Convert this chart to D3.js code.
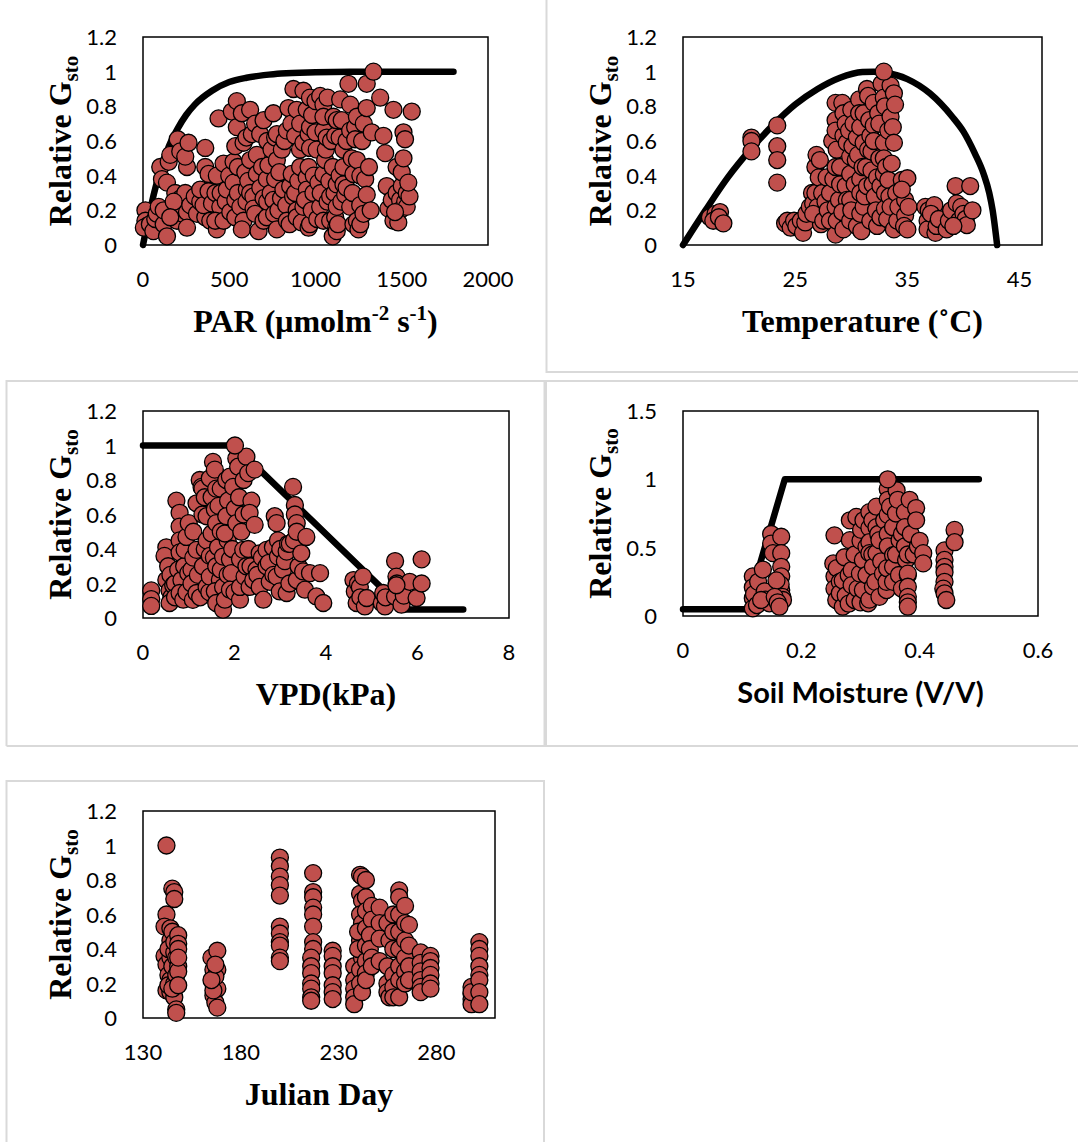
<!DOCTYPE html>
<html>
<head>
<meta charset="utf-8">
<script src="https://cdn.jsdelivr.net/npm/d3@7"></script>
<style>
  html, body { margin: 0; padding: 0; background: #fff; }
  svg { display: block; }
</style>
</head>
<body>
<div id="chart"></div>
<script>
// --- data -----------------------------------------------------------------

var gstoTicks = [0, 0.2, 0.4, 0.6, 0.8, 1, 1.2];
var soilGstoTicks = [0, 0.5, 1, 1.5];
var parTicks = [0, 500, 1000, 1500, 2000];
var tempTicks = [15, 25, 35, 45];
var vpdTicks = [0, 2, 4, 6, 8];
var soilTicks = [0, 0.2, 0.4, 0.6];
var julianTicks = [130, 180, 230, 280];

// model curves (black lines)
var parCurve = [[0, 0], [50, 0.24], [100, 0.43], [150, 0.57], [200, 0.67], [250, 0.75], [300, 0.81],
    [400, 0.89], [500, 0.94], [600, 0.965], [700, 0.98], [800, 0.99], [1000, 0.996], [1200, 0.999],
    [1400, 1], [1800, 1]];
var tempCurve = [[15, 0], [17, 0.2], [19, 0.39], [21, 0.55], [23, 0.69], [25, 0.81], [27, 0.9],
    [29, 0.965], [31, 0.998], [32, 1], [33, 0.995], [35, 0.957], [37, 0.875], [39, 0.74],
    [40, 0.654], [41, 0.53], [41.8, 0.41], [42.3, 0.3], [42.6, 0.2], [43, 0]];
var vpdCurve = [[0, 1], [2, 1], [5.7, 0.05], [7, 0.05]];
var soilCurve = [[0, 0.05], [0.115, 0.05], [0.13, 0.38], [0.172, 1], [0.5, 1]];

// observed relative Gsto
var parPoints = [
    [14, 0.20], [14, 0.14], [23, 0.11], [5, 0.10], [40, 0.12], [60, 0.08], [71, 0.15], [80, 0.18],
    [91, 0.22], [120, 0.12], [120, 0.20], [139, 0.05], [100, 0.45], [110, 0.38], [139, 0.36],
    [149, 0.48], [158, 0.52], [201, 0.61], [216, 0.54], [255, 0.45], [245, 0.51], [264, 0.59],
    [187, 0.30], [197, 0.14], [200, 0.20], [220, 0.27], [230, 0.18], [245, 0.30], [255, 0.19],
    [255, 0.10], [178, 0.25], [158, 0.16], [274, 0.23], [300, 0.28], [313, 0.18],
    [332, 0.25], [332, 0.32], [361, 0.56], [361, 0.45], [361, 0.16], [351, 0.23], [380, 0.41],
    [380, 0.31], [390, 0.14], [400, 0.24], [420, 0.30], [428, 0.40], [438, 0.73], [448, 0.22],
    [428, 0.09], [419, 0.14], [450, 0.30], [467, 0.47], [467, 0.14], [480, 0.25], [486, 0.32],
    [500, 0.40], [506, 0.19], [515, 0.77], [525, 0.48], [525, 0.36], [535, 0.26], [544, 0.83],
    [535, 0.16], [544, 0.68], [535, 0.57], [550, 0.30], [550, 0.45], [564, 0.22], [573, 0.76],
    [583, 0.59], [593, 0.42], [602, 0.32], [583, 0.14], [573, 0.09], [600, 0.25], [600, 0.62],
    [610, 0.37], [621, 0.78], [621, 0.30], [621, 0.49], [631, 0.64], [640, 0.28], [641, 0.21],
    [650, 0.18], [650, 0.70], [660, 0.52], [670, 0.08], [660, 0.41], [679, 0.64], [680, 0.33],
    [690, 0.45], [699, 0.27], [699, 0.14], [699, 0.72], [718, 0.38], [718, 0.16], [720, 0.25],
    [720, 0.60], [727, 0.46], [740, 0.30], [745, 0.55], [756, 0.76], [756, 0.26], [760, 0.18],
    [766, 0.62], [766, 0.38], [776, 0.64], [776, 0.49], [785, 0.20], [776, 0.09], [790, 0.42],
    [800, 0.27], [805, 0.55], [814, 0.32], [820, 0.60], [830, 0.23], [834, 0.14], [843, 0.79],
    [834, 0.66], [850, 0.12], [853, 0.34], [860, 0.70], [862, 0.41], [870, 0.28], [872, 0.90],
    [882, 0.63], [882, 0.30], [891, 0.20], [891, 0.16], [891, 0.78], [900, 0.37], [910, 0.55],
    [911, 0.45], [920, 0.13], [930, 0.89], [911, 0.70], [930, 0.59], [930, 0.22], [949, 0.39],
    [949, 0.78], [950, 0.32], [939, 0.26], [960, 0.45], [960, 0.10], [960, 0.64], [968, 0.85],
    [968, 0.68], [968, 0.56], [968, 0.12], [980, 0.75], [988, 0.30], [978, 0.20], [990, 0.40],
    [1000, 0.65], [1000, 0.83], [1007, 0.55], [1010, 0.15], [1027, 0.86], [1017, 0.36],
    [1027, 0.22], [1030, 0.30], [1046, 0.81], [1046, 0.66], [1046, 0.14], [1046, 0.41],
    [1046, 0.74], [1056, 0.49], [1060, 0.55], [1065, 0.62], [1070, 0.25], [1070, 0.85],
    [1080, 0.37], [1085, 0.14], [1085, 0.28], [1090, 0.60], [1100, 0.45], [1100, 0.05],
    [1104, 0.74], [1110, 0.30], [1114, 0.63], [1120, 0.10], [1123, 0.35], [1114, 0.16],
    [1123, 0.08], [1123, 0.22], [1123, 0.72], [1130, 0.12], [1140, 0.40], [1140, 0.62],
    [1143, 0.84], [1150, 0.25], [1152, 0.72], [1162, 0.55], [1162, 0.35], [1162, 0.45],
    [1172, 0.29], [1180, 0.60], [1180, 0.33], [1191, 0.93], [1201, 0.81], [1201, 0.22],
    [1201, 0.66], [1210, 0.50], [1215, 0.30], [1220, 0.41], [1220, 0.12], [1230, 0.68],
    [1230, 0.61], [1240, 0.74], [1240, 0.49], [1240, 0.14], [1249, 0.09], [1259, 0.23],
    [1260, 0.40], [1260, 0.12], [1270, 0.60], [1278, 0.18], [1280, 0.70], [1288, 0.38],
    [1297, 0.93], [1297, 0.79], [1297, 0.29], [1310, 0.45], [1320, 0.20], [1326, 0.65],
    [1336, 1.00], [1375, 0.85], [1394, 0.63], [1404, 0.53], [1413, 0.34], [1423, 0.21],
    [1452, 0.78], [1442, 0.26], [1452, 0.14], [1470, 0.30], [1470, 0.45], [1490, 0.26],
    [1490, 0.20], [1500, 0.34], [1500, 0.42], [1510, 0.65], [1510, 0.50], [1519, 0.61],
    [1520, 0.25], [1529, 0.30], [1529, 0.22], [1545, 0.28], [1558, 0.77], [1538, 0.36],
    [1480, 0.13], [1461, 0.19]
];

var tempPoints = [
    [17.4, 0.16], [17.9, 0.18], [18.3, 0.19], [18.5, 0.13], [17.7, 0.14], [18.2, 0.16], [18.6, 0.125],
    [21.1, 0.62], [21.1, 0.60], [21.1, 0.54],
    [23.4, 0.69], [23.4, 0.57], [23.4, 0.49], [23.4, 0.36],
    [24.1, 0.125], [24.3, 0.14], [24.6, 0.10], [24.9, 0.14], [25.1, 0.11], [25.5, 0.14], [25.7, 0.07],
    [25.9, 0.13], [26.0, 0.18], [26.3, 0.22], [26.5, 0.30], [26.6, 0.24], [26.8, 0.30], [26.8, 0.45],
    [26.9, 0.52], [27.0, 0.22], [27.1, 0.39], [27.3, 0.12], [27.4, 0.30], [26.6, 0.18], [27.5, 0.14],
    [27.7, 0.25], [27.8, 0.39], [27.2, 0.49], [27.9, 0.20], [28.1, 0.14], [28.1, 0.30], [28.3, 0.60],
    [28.4, 0.38], [28.6, 0.82], [28.6, 0.72], [28.6, 0.66], [28.7, 0.55], [28.6, 0.45], [28.6, 0.22],
    [28.6, 0.06], [28.7, 0.14], [28.9, 0.26], [29.0, 0.35], [29.0, 0.45], [29.2, 0.82], [29.3, 0.76],
    [29.3, 0.63], [29.5, 0.34], [29.5, 0.70], [29.6, 0.26], [29.6, 0.59], [29.7, 0.12], [29.2, 0.19],
    [29.3, 0.09], [29.8, 0.66], [29.9, 0.14], [29.9, 0.41], [29.9, 0.51], [29.9, 0.26], [30.0, 0.20],
    [30.0, 0.78], [30.1, 0.57], [30.2, 0.70], [30.3, 0.35], [30.4, 0.49], [30.5, 0.11], [30.5, 0.62],
    [30.6, 0.52], [30.7, 0.84], [30.7, 0.76], [30.8, 0.68], [30.8, 0.38], [30.8, 0.30], [30.8, 0.18],
    [30.9, 0.08], [31.0, 0.45], [31.1, 0.59], [31.1, 0.22], [31.1, 0.76], [31.2, 0.28], [31.3, 0.45],
    [31.4, 0.90], [31.5, 0.86], [31.5, 0.55], [31.4, 0.34], [31.6, 0.72], [31.7, 0.63], [31.7, 0.14],
    [31.8, 0.54], [31.8, 0.43], [31.9, 0.35], [32.0, 0.69], [32.0, 0.82], [32.0, 0.60], [32.1, 0.28],
    [32.2, 0.20], [32.3, 0.11], [32.3, 0.39], [32.4, 0.76], [32.5, 0.50], [32.5, 0.70], [32.6, 0.16],
    [32.6, 0.34], [32.7, 0.93], [32.9, 0.85], [32.9, 0.59], [32.9, 0.50], [32.9, 0.41], [33.0, 0.30],
    [33.0, 0.21], [33.0, 0.80], [33.1, 0.45], [33.2, 0.15], [33.3, 0.66], [33.3, 0.375], [33.4, 0.28],
    [33.5, 0.92], [33.5, 0.74], [33.5, 0.22], [33.7, 0.68], [33.8, 0.875], [33.9, 0.81], [33.6, 0.47],
    [33.8, 0.59], [33.8, 0.09], [34.0, 0.30], [34.1, 0.14], [34.2, 0.22], [32.9, 1.00],
    [34.5, 0.375], [35.0, 0.385], [34.8, 0.26], [34.8, 0.17], [34.7, 0.11], [35.0, 0.09], [34.5, 0.32],
    [35.1, 0.22], [36.6, 0.22], [36.8, 0.14], [36.8, 0.09], [36.9, 0.20], [37.4, 0.23], [37.5, 0.07],
    [37.1, 0.18], [37.6, 0.11], [37.8, 0.15], [38.5, 0.09], [38.7, 0.14], [38.9, 0.20], [39.3, 0.34],
    [39.4, 0.24], [39.6, 0.14], [39.8, 0.22], [40.0, 0.18], [40.2, 0.15], [40.3, 0.115], [40.6, 0.34],
    [40.8, 0.20], [39.1, 0.11]
];

var vpdPoints = [
    [0.18, 0.16], [0.18, 0.11], [0.18, 0.07], [0.51, 0.41], [0.47, 0.36], [0.55, 0.30], [0.51, 0.22],
    [0.58, 0.16], [0.60, 0.25], [0.62, 0.12], [0.66, 0.19], [0.58, 0.087], [0.70, 0.20], [0.70, 0.12],
    [0.73, 0.68], [0.80, 0.61], [0.80, 0.53], [0.80, 0.45], [0.80, 0.38], [0.77, 0.28], [0.84, 0.22],
    [0.80, 0.145], [0.88, 0.106], [0.90, 0.30], [0.91, 0.395], [0.95, 0.47], [0.95, 0.15], [0.99, 0.26],
    [1.00, 0.55], [1.06, 0.28], [1.06, 0.20], [1.09, 0.105], [1.10, 0.50], [1.10, 0.35], [1.17, 0.145],
    [1.17, 0.395], [1.17, 0.665], [1.20, 0.25], [1.24, 0.80], [1.25, 0.12], [1.28, 0.76], [1.30, 0.60],
    [1.30, 0.75], [1.31, 0.30], [1.35, 0.70], [1.35, 0.40], [1.39, 0.59], [1.39, 0.45], [1.39, 0.18],
    [1.45, 0.15], [1.46, 0.36], [1.46, 0.81], [1.46, 0.24], [1.50, 0.49], [1.50, 0.70], [1.53, 0.905],
    [1.55, 0.35], [1.57, 0.86], [1.57, 0.63], [1.60, 0.75], [1.60, 0.55], [1.64, 0.41], [1.60, 0.30],
    [1.65, 0.65], [1.68, 0.22], [1.70, 0.50], [1.70, 0.28], [1.70, 0.75], [1.57, 0.155], [1.60, 0.087],
    [1.75, 0.048], [1.75, 0.356], [1.75, 0.18], [1.79, 0.106], [1.82, 0.80], [1.85, 0.45], [1.85, 0.25],
    [1.86, 0.68], [1.82, 0.59], [1.79, 0.49], [1.90, 0.34], [1.90, 0.82], [1.93, 0.26], [1.90, 0.164],
    [1.95, 0.40], [1.97, 0.76], [2.00, 0.15], [2.01, 0.635], [2.04, 0.55], [2.04, 0.925], [2.08, 0.877],
    [2.10, 0.70], [2.12, 0.106], [2.12, 0.34], [2.12, 0.18], [2.15, 0.50], [2.19, 0.395], [2.20, 0.60],
    [2.20, 0.80], [2.22, 0.24], [2.26, 0.935], [2.26, 0.30], [2.30, 0.84], [2.30, 0.40], [2.35, 0.30],
    [2.37, 0.68], [2.33, 0.61], [2.44, 0.86], [2.44, 0.54], [2.33, 0.18], [2.41, 0.22], [2.48, 0.28],
    [2.50, 0.25], [2.55, 0.375], [2.55, 0.18], [2.60, 0.35], [2.63, 0.106], [2.70, 0.30], [2.70, 0.395],
    [2.75, 0.32], [2.77, 0.21], [2.84, 0.41], [2.85, 0.25], [2.88, 0.59], [2.92, 0.55], [2.92, 0.24],
    [2.95, 0.356], [2.95, 0.45], [2.99, 0.154], [3.00, 0.40], [3.06, 0.28], [3.10, 0.33], [3.14, 0.385],
    [3.14, 0.145], [3.17, 0.43], [3.20, 0.20], [3.21, 0.43], [3.28, 0.76], [3.30, 0.45], [3.32, 0.655],
    [3.32, 0.60], [3.36, 0.55], [3.36, 0.50], [3.36, 0.22], [3.40, 0.30], [3.46, 0.375], [3.57, 0.47],
    [3.50, 0.27], [3.54, 0.164], [3.65, 0.26], [3.79, 0.125], [3.87, 0.26], [3.94, 0.087],
    [2.01, 1.0],
    [4.60, 0.22], [4.63, 0.154], [4.67, 0.087], [4.70, 0.20], [4.74, 0.18], [4.75, 0.12], [4.81, 0.24],
    [4.85, 0.067], [4.89, 0.116], [5.22, 0.087], [5.25, 0.145], [5.29, 0.067], [5.30, 0.12],
    [5.51, 0.33], [5.54, 0.24], [5.55, 0.20], [5.51, 0.125], [5.65, 0.077], [5.70, 0.13], [5.83, 0.21],
    [5.98, 0.116], [6.09, 0.20], [6.09, 0.34], [5.54, 0.19]
];

var soilPoints = [
    [0.118, 0.29], [0.118, 0.21], [0.118, 0.13], [0.118, 0.056], [0.120, 0.16], [0.125, 0.08],
    [0.127, 0.25], [0.135, 0.34], [0.138, 0.18], [0.140, 0.12], [0.146, 0.093], [0.132, 0.117],
    [0.149, 0.60], [0.149, 0.53], [0.152, 0.46], [0.166, 0.58], [0.166, 0.46], [0.166, 0.36],
    [0.166, 0.29], [0.166, 0.19], [0.165, 0.23], [0.168, 0.14], [0.169, 0.117], [0.158, 0.26],
    [0.155, 0.14], [0.160, 0.10], [0.163, 0.068],
    [0.256, 0.59], [0.254, 0.385], [0.256, 0.29], [0.256, 0.20], [0.259, 0.117], [0.260, 0.35],
    [0.265, 0.25], [0.265, 0.166], [0.270, 0.068], [0.270, 0.26], [0.273, 0.43], [0.275, 0.15],
    [0.280, 0.30], [0.280, 0.09], [0.282, 0.70], [0.282, 0.555], [0.285, 0.336], [0.285, 0.226],
    [0.290, 0.45], [0.293, 0.725], [0.290, 0.117], [0.295, 0.20], [0.299, 0.31], [0.300, 0.55],
    [0.300, 0.10], [0.301, 0.63], [0.304, 0.19], [0.304, 0.41], [0.305, 0.70], [0.310, 0.506],
    [0.310, 0.30], [0.313, 0.093], [0.315, 0.76], [0.315, 0.645], [0.315, 0.54], [0.315, 0.46],
    [0.315, 0.12], [0.320, 0.70], [0.320, 0.45], [0.321, 0.36], [0.321, 0.214], [0.325, 0.25],
    [0.327, 0.80], [0.327, 0.46], [0.327, 0.65], [0.330, 0.60], [0.332, 0.14], [0.332, 0.555],
    [0.335, 0.40], [0.338, 0.31], [0.340, 0.70], [0.344, 0.19], [0.344, 0.25], [0.345, 0.35],
    [0.346, 0.93], [0.346, 0.85], [0.346, 0.74], [0.346, 0.60], [0.346, 0.51], [0.350, 0.80],
    [0.355, 0.445], [0.355, 0.36], [0.355, 0.65], [0.355, 0.25], [0.360, 0.75], [0.360, 0.45],
    [0.361, 0.92], [0.363, 0.85], [0.365, 0.30], [0.366, 0.555], [0.370, 0.60], [0.370, 0.20],
    [0.375, 0.76], [0.375, 0.65], [0.375, 0.51], [0.377, 0.41], [0.380, 0.45], [0.380, 0.30],
    [0.380, 0.31], [0.380, 0.214], [0.380, 0.14], [0.380, 0.10], [0.380, 0.068], [0.383, 0.85],
    [0.385, 0.60], [0.390, 0.45], [0.394, 0.79], [0.394, 0.70], [0.397, 0.51], [0.400, 0.55],
    [0.406, 0.46], [0.406, 0.385], [0.346, 1.0],
    [0.442, 0.48], [0.442, 0.41], [0.442, 0.36], [0.442, 0.32], [0.442, 0.25], [0.440, 0.20],
    [0.442, 0.166], [0.445, 0.117], [0.459, 0.63], [0.459, 0.54]
];

var julianPoints = [
    [142, 0.6], [141, 0.53], [141, 0.36], [142, 0.31], [143, 0.25], [142, 0.16], [142, 1.0],
    [144, 0.52], [144, 0.45], [144, 0.35], [144, 0.22], [144, 0.15], [143, 0.40], [143, 0.19],
    [145, 0.75], [146, 0.73], [146, 0.69], [145, 0.5], [146, 0.38], [145, 0.3], [146, 0.12],
    [147, 0.05], [147, 0.03], [146, 0.2], [147, 0.35], [147, 0.25], [146, 0.44], [145, 0.17],
    [148, 0.48], [148, 0.43], [148, 0.40], [148, 0.30], [148, 0.27], [148, 0.19], [148, 0.35],
    [165, 0.35], [166, 0.28], [166, 0.2], [166, 0.13], [167, 0.09], [168, 0.39], [168, 0.28],
    [168, 0.17], [168, 0.06], [167, 0.24], [166, 0.16], [165, 0.22], [167, 0.31],
    [200, 0.93], [200, 0.88], [200, 0.82], [200, 0.77], [200, 0.71], [200, 0.53], [200, 0.49],
    [200, 0.44], [200, 0.42], [200, 0.35], [200, 0.33],
    [217, 0.84], [217, 0.73], [217, 0.70], [217, 0.64], [217, 0.60], [217, 0.53], [217, 0.44],
    [217, 0.40], [216, 0.35], [216, 0.30], [216, 0.26], [216, 0.20], [216, 0.17], [216, 0.12], [216, 0.10],
    [227, 0.39], [227, 0.36], [227, 0.30], [227, 0.26], [227, 0.19], [227, 0.15], [227, 0.11],
    [238, 0.30], [238, 0.22], [238, 0.17], [238, 0.12], [238, 0.08],
    [241, 0.83], [242, 0.82], [241, 0.72], [242, 0.68], [241, 0.60], [242, 0.55], [241, 0.45],
    [242, 0.35], [241, 0.28], [241, 0.20], [242, 0.15], [240, 0.50], [240, 0.40],
    [244, 0.80], [244, 0.70], [244, 0.62], [244, 0.52], [244, 0.42], [244, 0.33], [244, 0.26], [244, 0.22],
    [247, 0.65], [247, 0.57], [246, 0.48], [246, 0.40], [247, 0.35], [247, 0.30],
    [251, 0.64], [251, 0.55], [251, 0.46], [251, 0.33],
    [255, 0.55], [255, 0.30], [255, 0.20], [255, 0.15], [256, 0.12], [256, 0.45],
    [258, 0.60], [258, 0.50], [258, 0.40], [258, 0.25], [258, 0.18], [258, 0.12],
    [261, 0.74], [261, 0.70], [261, 0.60], [261, 0.50], [261, 0.40], [261, 0.30], [261, 0.22], [261, 0.12],
    [264, 0.65], [264, 0.55], [264, 0.45], [264, 0.35], [264, 0.27], [264, 0.20],
    [266, 0.54], [266, 0.42], [266, 0.30], [266, 0.22],
    [272, 0.38], [272, 0.32], [272, 0.27], [272, 0.22], [272, 0.18], [272, 0.15],
    [277, 0.36], [277, 0.33], [277, 0.29], [277, 0.25], [277, 0.20], [277, 0.17],
    [298, 0.18], [298, 0.14], [298, 0.11], [298, 0.08], [298, 0.15],
    [302, 0.44], [302, 0.40], [302, 0.36], [302, 0.30], [302, 0.25], [302, 0.22], [302, 0.15], [302, 0.08]
];

// --- layout ----------------------------------------------------------------

var W = 1078, H = 1142;
var DOT_FILL = "#C0504D";
var TICK_FONT = "Lato, 'Open Sans', sans-serif";
var SERIF = "'Liberation Serif', 'Times New Roman', serif";

var panels = [
    {
        points: parPoints, curve: parCurve, smooth: true,
        xDomain: [0, 2000], xTicks: parTicks, yDomain: [0, 1.2], yTicks: gstoTicks,
        box: { l: 143, r: 488, t: 37, b: 245 },
        title: [{ t: "PAR (μmolm" }, { t: "-2", sup: true }, { t: " s" }, { t: "-1", sup: true }, { t: ")" }],
        titleFont: SERIF
    },
    {
        points: tempPoints, curve: tempCurve, smooth: true,
        xDomain: [15, 47], xTicks: tempTicks, yDomain: [0, 1.2], yTicks: gstoTicks,
        box: { l: 683, r: 1042, t: 37, b: 245 },
        title: [{ t: "Temperature (˚C)" }],
        titleFont: SERIF
    },
    {
        points: vpdPoints, curve: vpdCurve, smooth: false,
        xDomain: [0, 8], xTicks: vpdTicks, yDomain: [0, 1.2], yTicks: gstoTicks,
        box: { l: 143, r: 509, t: 411, b: 618 },
        title: [{ t: "VPD(kPa)" }],
        titleFont: SERIF
    },
    {
        points: soilPoints, curve: soilCurve, smooth: false,
        xDomain: [0, 0.6], xTicks: soilTicks, yDomain: [0, 1.5], yTicks: soilGstoTicks,
        box: { l: 683, r: 1038, t: 411, b: 616 },
        title: [{ t: "Soil Moisture (V/V)" }],
        titleFont: TICK_FONT, titleSize: 29
    },
    {
        points: julianPoints, curve: null, smooth: false,
        xDomain: [130, 310], xTicks: julianTicks, yDomain: [0, 1.2], yTicks: gstoTicks,
        box: { l: 143, r: 495, t: 811, b: 1018 },
        title: [{ t: "Julian Day" }],
        titleFont: SERIF
    }
];

var svg = d3.select("#chart").append("svg")
    .attr("width", W)
    .attr("height", H);

svg.append("rect").attr("width", W).attr("height", H).attr("fill", "#fff");

// light grey frames round the pasted charts
var frames = [
    "M546.5,-5 V372 H1090",
    "M6.5,746 V381 H544.5 V746 H6.5",
    "M1090,381 H546 V746 H1090",
    "M6.5,1150 V781 H544 V1150"
];
svg.selectAll("path.frame")
    .data(frames)
    .enter()
    .append("path")
    .attr("class", "frame")
    .attr("d", function (d) { return d; })
    .attr("fill", "none")
    .attr("stroke", "#d9d9d9")
    .attr("stroke-width", 2);

panels.forEach(function (p) {
    var x = d3.scaleLinear().domain(p.xDomain).range([p.box.l, p.box.r]);
    var y = d3.scaleLinear().domain(p.yDomain).range([p.box.b, p.box.t]);
    var g = svg.append("g");

    // plot area border
    g.append("rect")
        .attr("x", p.box.l)
        .attr("y", p.box.t)
        .attr("width", p.box.r - p.box.l)
        .attr("height", p.box.b - p.box.t)
        .attr("fill", "none")
        .attr("stroke", "#000")
        .attr("stroke-width", 1.5);

    // y tick labels
    g.selectAll("text.ytick")
        .data(p.yTicks)
        .enter()
        .append("text")
        .attr("class", "ytick")
        .attr("x", p.box.l - 26)
        .attr("y", function (d) { return y(d) + 8; })
        .attr("text-anchor", "end")
        .attr("font-family", TICK_FONT)
        .attr("font-size", 22)
        .text(function (d) { return String(d); });

    // x tick labels
    g.selectAll("text.xtick")
        .data(p.xTicks)
        .enter()
        .append("text")
        .attr("class", "xtick")
        .attr("x", function (d) { return x(d); })
        .attr("y", p.box.b + 42)
        .attr("text-anchor", "middle")
        .attr("font-family", TICK_FONT)
        .attr("font-size", 22)
        .text(function (d) { return String(d); });

    // model line
    if (p.curve) {
        var line = d3.line()
            .x(function (d) { return x(d[0]); })
            .y(function (d) { return y(d[1]); })
            .curve(p.smooth ? d3.curveMonotoneX : d3.curveLinear);
        g.append("path")
            .datum(p.curve)
            .attr("d", line)
            .attr("fill", "none")
            .attr("stroke", "#000")
            .attr("stroke-width", 6.5)
            .attr("stroke-linecap", "round")
            .attr("stroke-linejoin", "round");
    }

    // observations
    g.selectAll("circle")
        .data(p.points)
        .enter()
        .append("circle")
        .attr("cx", function (d) { return x(d[0]); })
        .attr("cy", function (d) { return y(d[1]); })
        .attr("r", 8.5)
        .attr("fill", DOT_FILL)
        .attr("stroke", "#000")
        .attr("stroke-width", 1.3);

    // x axis title
    var xt = g.append("text")
        .attr("x", (p.box.l + p.box.r) / 2)
        .attr("y", p.box.b + 87)
        .attr("text-anchor", "middle")
        .attr("font-family", p.titleFont)
        .attr("font-weight", "bold")
        .attr("font-size", p.titleSize || 32);
    p.title.forEach(function (s, i) {
        var prevSup = i > 0 && p.title[i - 1].sup;
        var ts = xt.append("tspan").text(s.t);
        if (s.sup) {
            ts.attr("font-size", 21).attr("dy", -12);
        } else if (prevSup) {
            ts.attr("dy", 12);
        }
    });

    // y axis title, rotated
    var yt = g.append("text")
        .attr("transform", "translate(" + (p.box.l - 72) + "," + ((p.box.t + p.box.b) / 2) + ") rotate(-90)")
        .attr("text-anchor", "middle")
        .attr("font-family", SERIF)
        .attr("font-weight", "bold")
        .attr("font-size", 32);
    yt.append("tspan").text("Relative G");
    yt.append("tspan").attr("font-size", 21).attr("dy", 7).text("sto");
});
</script>
</body>
</html>
